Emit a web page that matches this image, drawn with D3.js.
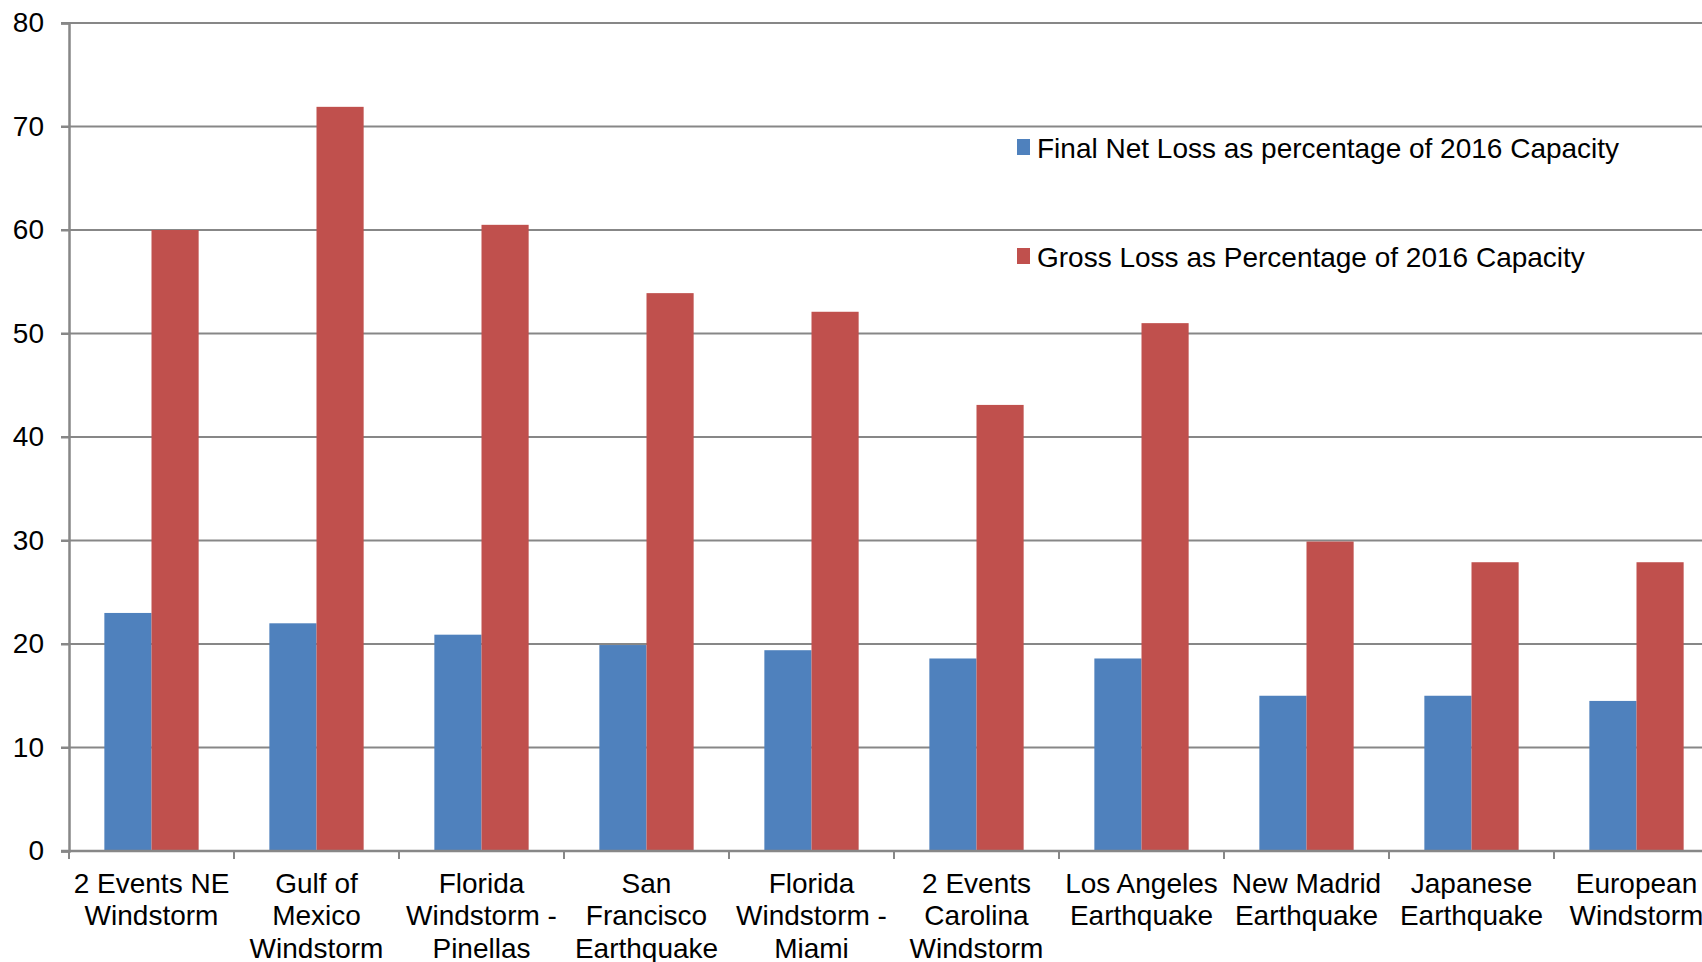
<!DOCTYPE html>
<html>
<head>
<meta charset="utf-8">
<script src="https://cdn.jsdelivr.net/npm/d3@7"></script>
<style>
  html, body { margin: 0; padding: 0; background: #fff; overflow: hidden; }
  svg { display: block; font-family: "Liberation Sans", Arial, Helvetica, sans-serif; }
</style>
</head>
<body>
<svg id="chart" width="1702" height="962"></svg>
<script>
// Catastrophe scenarios (line breaks mark how each label wraps)
const categories = [
  "2 Events NE\nWindstorm",
  "Gulf of\nMexico\nWindstorm",
  "Florida\nWindstorm -\nPinellas",
  "San\nFrancisco\nEarthquake",
  "Florida\nWindstorm -\nMiami",
  "2 Events\nCarolina\nWindstorm",
  "Los Angeles\nEarthquake",
  "New Madrid\nEarthquake",
  "Japanese\nEarthquake",
  "European\nWindstorm"
];
const seriesNames = [
  "Final Net Loss as percentage of 2016 Capacity",
  "Gross Loss as Percentage of 2016 Capacity"
];
const netLoss   = [23, 22, 20.9, 19.9, 19.4, 18.6, 18.6, 15, 15, 14.5];
const grossLoss = [60, 71.9, 60.5, 53.9, 52.1, 43.1, 51, 29.9, 27.9, 27.9];
const yTicks = [0, 10, 20, 30, 40, 50, 60, 70, 80];
const colors = ["#4F81BD", "#C0504D"];

const svg = d3.select("#chart");
const margin = { left: 69, top: 23, bottom: 110 };
const step = 165;
const plotW = step * categories.length;
const plotH = 962 - margin.top - margin.bottom - 1;

const g = svg.append("g").attr("transform", `translate(${margin.left},${margin.top})`);

const x0 = d3.scaleBand()
  .domain(d3.range(categories.length))
  .range([0, plotW])
  .paddingInner(1.5 / 3.5)
  .paddingOuter(0.75 / 3.5);
const x1 = d3.scaleBand().domain([0, 1]).range([0, x0.bandwidth()]);
const y = d3.scaleLinear().domain([0, 80]).range([plotH, 0]);

const gridColor = "#878787";

// horizontal gridlines
g.append("g")
  .selectAll("line")
  .data(yTicks.filter(t => t > 0))
  .join("line")
  .attr("x1", -8).attr("x2", plotW)
  .attr("y1", d => y(d)).attr("y2", d => y(d))
  .attr("stroke", gridColor).attr("stroke-width", 2);

// bars
const table = categories.map((c, i) => [netLoss[i], grossLoss[i]]);
g.append("g")
  .selectAll("g")
  .data(table)
  .join("g")
  .attr("transform", (d, i) => `translate(${x0(i)},0)`)
  .selectAll("rect")
  .data(d => d.map((v, s) => ({ v, s })))
  .join("rect")
  .attr("x", d => x1(d.s))
  .attr("width", x1.bandwidth())
  .attr("y", d => y(d.v))
  .attr("height", d => y(0) - y(d.v))
  .attr("fill", d => colors[d.s]);

// y axis
const yAxis = g.append("g")
  .call(d3.axisLeft(y).tickValues(yTicks).tickSize(8).tickPadding(17).tickFormat(d3.format("d")));
yAxis.select(".domain").attr("stroke", gridColor).attr("stroke-width", 2.5);
yAxis.selectAll(".tick line").attr("stroke", gridColor).attr("stroke-width", 2);
yAxis.selectAll(".tick text")
  .attr("font-size", 28).attr("fill", "#000")
  .attr("font-family", "'Liberation Sans', Arial, sans-serif");

// x axis with ticks on category boundaries
const xBound = d3.scaleLinear().domain([0, categories.length]).range([0, plotW]);
const xAxis = g.append("g").attr("transform", `translate(0,${plotH})`);
xAxis.append("line")
  .attr("x1", -8).attr("x2", plotW)
  .attr("stroke", gridColor).attr("stroke-width", 2.5);
xAxis.selectAll("line.tk")
  .data(d3.range(categories.length + 1))
  .join("line").attr("class", "tk")
  .attr("x1", d => xBound(d)).attr("x2", d => xBound(d))
  .attr("y1", 0).attr("y2", 8)
  .attr("stroke", gridColor).attr("stroke-width", 2);

// category labels
const lineH = 32.4;
xAxis.selectAll("text.cat")
  .data(categories)
  .join("text").attr("class", "cat")
  .attr("text-anchor", "middle")
  .attr("font-size", 28)
  .attr("fill", "#000")
  .attr("transform", (d, i) => `translate(${x0(i) + x0.bandwidth() / 2},42)`)
  .selectAll("tspan")
  .data(d => d.split("\n"))
  .join("tspan")
  .attr("x", 0)
  .attr("y", (d, k) => k * lineH)
  .text(d => d);

// legend
const legend = svg.append("g").attr("transform", "translate(1017,139)");
const items = legend.selectAll("g")
  .data(seriesNames)
  .join("g")
  .attr("transform", (d, i) => `translate(0,${i * 109})`);
items.append("rect")
  .attr("width", 13).attr("height", 16)
  .attr("fill", (d, i) => colors[i]);
items.append("text")
  .attr("x", 20).attr("y", 19)
  .attr("font-size", 28)
  .attr("fill", "#000")
  .text(d => d);
</script>
</body>
</html>
